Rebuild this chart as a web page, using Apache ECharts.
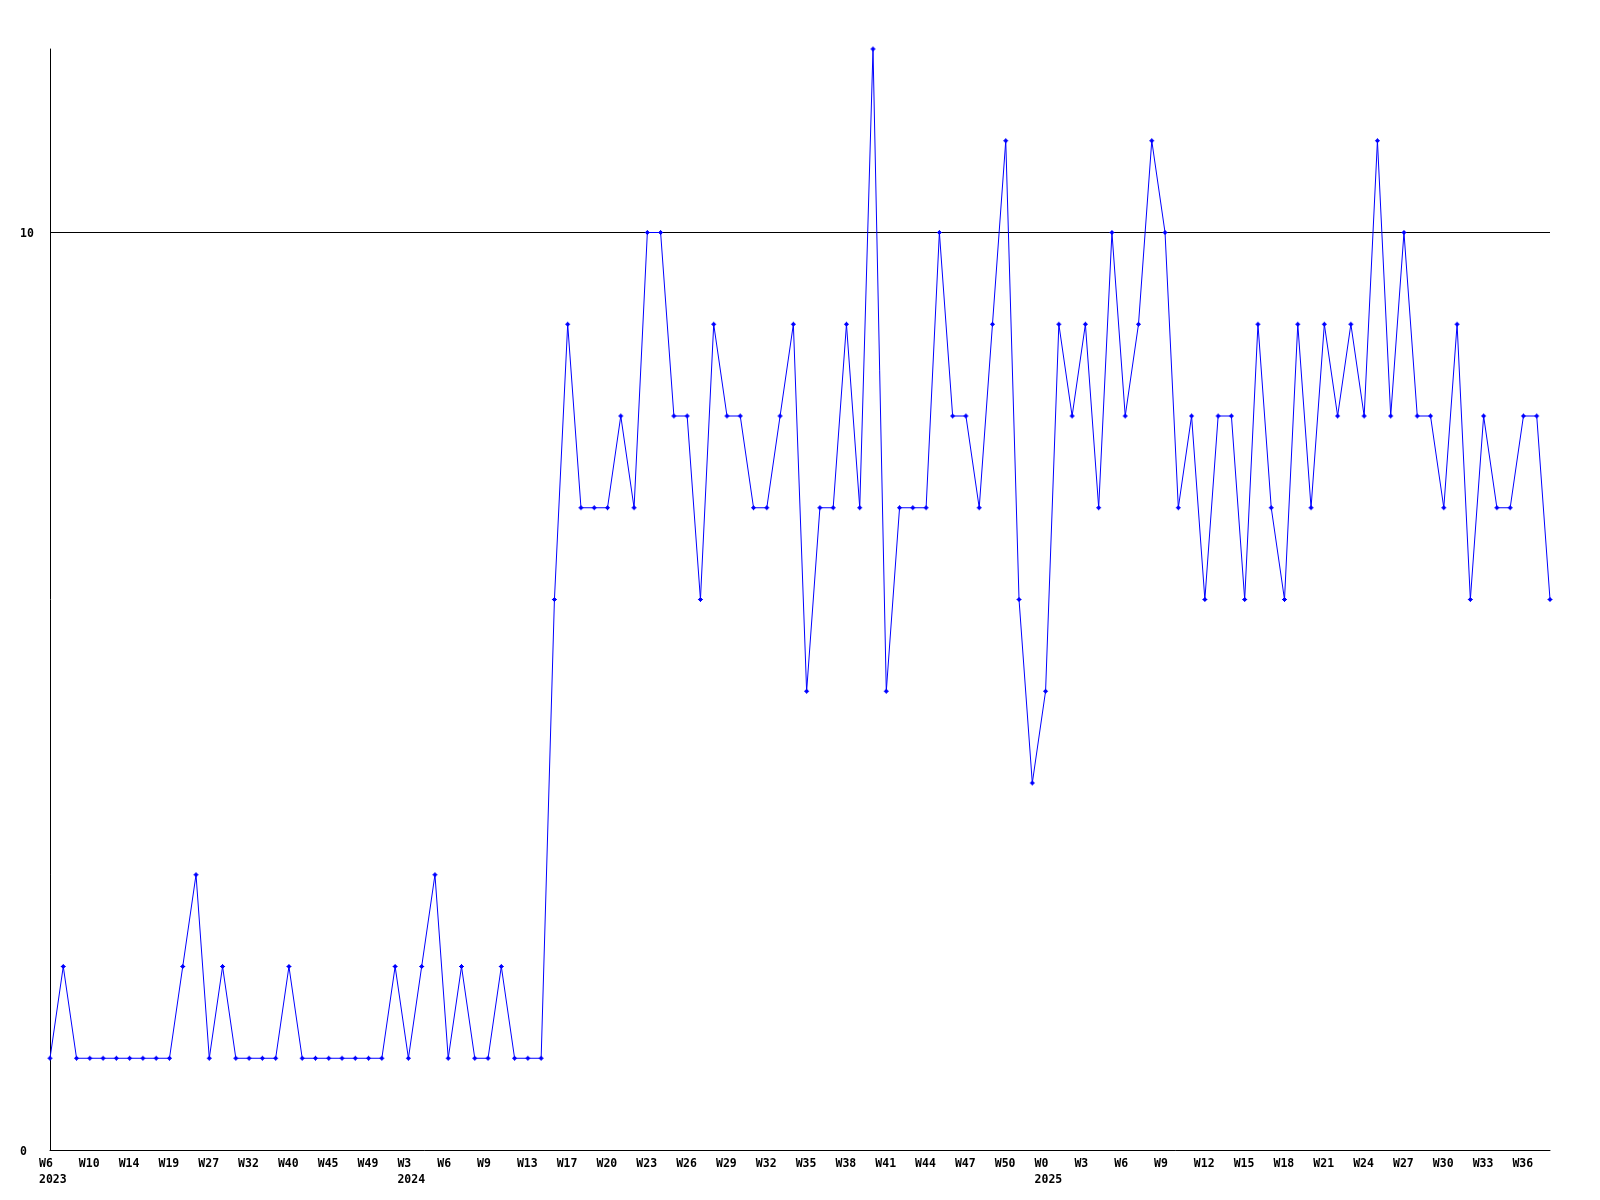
<!DOCTYPE html>
<html>
<head>
<meta charset="utf-8">
<script src="https://cdn.jsdelivr.net/npm/echarts@6/dist/echarts.min.js"></script>
<style>html,body{margin:0;padding:0;background:#fff}#c{width:1600px;height:1200px}</style>
</head>
<body>
<div id="c"></div>
<script>
// Week categories (only every third one is labelled in the chart)
const weeks2023 = ['W6','W7','W9','W10','W11','W13','W14','W16','W17','W19','W23','W25','W27','W29','W30','W32','W35','W38','W40','W42','W43','W45','W46','W48','W49','W51','W52'];
const weeks2024 = ['W3','W4','W5','W6','W7','W8','W9','W10','W11','W13','W15','W16','W17','W18','W19','W20','W21','W22','W23','W24','W25','W26','W27','W28','W29','W30','W31','W32','W33','W34','W35','W36','W37','W38','W39','W40','W41','W42','W43','W44','W45','W46','W47','W48','W49','W50','W51','W52'];
const weeks2025 = ['W0','W1','W2','W3','W4','W5','W6','W7','W8','W9','W10','W11','W12','W13','W14','W15','W16','W17','W18','W19','W20','W21','W22','W23','W24','W25','W26','W27','W28','W29','W30','W31','W32','W33','W34','W35','W36','W37','W38'];
const yearNames = ['2023','2024','2025'];
const values = [
  1,2,1,1,1,1,1,1,1,1,2,3,1,2,1,1,1,1,2,1,1,1,1,1,1,1,2,
  1,2,3,1,2,1,1,2,1,1,1,6,9,7,7,7,8,7,10,10,8,8,6,9,8,8,7,7,8,9,5,7,7,9,7,12,5,7,7,7,10,8,8,7,9,11,6,4,
  5,9,8,9,7,10,8,9,11,10,7,8,6,8,8,6,9,7,6,9,7,9,8,9,8,11,8,10,8,8,7,9,6,8,7,7,8,8,6
];
const yTickLabels = [0, 10];
const refLine = 10;

const categories = weeks2023.concat(weeks2024, weeks2025);
const yearStart = {};
yearStart[0] = yearNames[0];
yearStart[weeks2023.length] = yearNames[1];
yearStart[weeks2023.length + weeks2024.length] = yearNames[2];

const chart = echarts.init(document.getElementById('c'), null, {renderer: 'canvas'});
const font = 'DejaVu Sans Mono';
chart.setOption({
  animation: false,
  backgroundColor: '#ffffff',
  grid: {left: 50, right: 50, top: 49, bottom: 50, outerBoundsMode: 'none'},
  xAxis: {
    type: 'category',
    data: categories,
    boundaryGap: false,
    axisLine: {show: true, lineStyle: {color: '#000', width: 1}},
    axisTick: {show: false},
    splitLine: {show: false},
    axisLabel: {
      interval: 2,
      align: 'left',
      padding: [0, 0, 0, -11],
      margin: 6,
      lineHeight: 16,
      fontFamily: font,
      fontWeight: 'bold',
      fontSize: 11.5,
      color: '#000',
      formatter: function (v, i) { return yearStart[i] ? v + '\n' + yearStart[i] : v; }
    }
  },
  yAxis: {
    type: 'value',
    min: 0,
    max: 12,
    interval: 10,
    axisLine: {show: true, lineStyle: {color: '#000', width: 1}},
    axisTick: {show: false},
    splitLine: {show: false},
    axisLabel: {
      align: 'left',
      verticalAlign: 'top',
      margin: 30,
      padding: [-5, 0, 0, 0],
      lineHeight: 14,
      fontFamily: font,
      fontWeight: 'bold',
      fontSize: 11.5,
      color: '#000',
      showMaxLabel: false,
      formatter: function (v) { return yTickLabels.indexOf(v) >= 0 ? String(v) : ''; }
    }
  },
  series: [{
    type: 'line',
    data: values,
    color: '#0000ff',
    lineStyle: {color: '#0000ff', width: 1},
    itemStyle: {color: '#0000ff'},
    symbol: 'path://M2,0H3V1H4V2H5V3H4V4H3V5H2V4H1V3H0V2H1V1H2Z',
    symbolSize: 5,
    showSymbol: true,
    showAllSymbol: true,
    silent: true,
    markLine: {
      silent: true,
      symbol: 'none',
      label: {show: false},
      lineStyle: {color: '#000', width: 1, type: 'solid'},
      data: [{yAxis: refLine}],
      z: 1
    }
  }]
});
</script>
</body>
</html>
